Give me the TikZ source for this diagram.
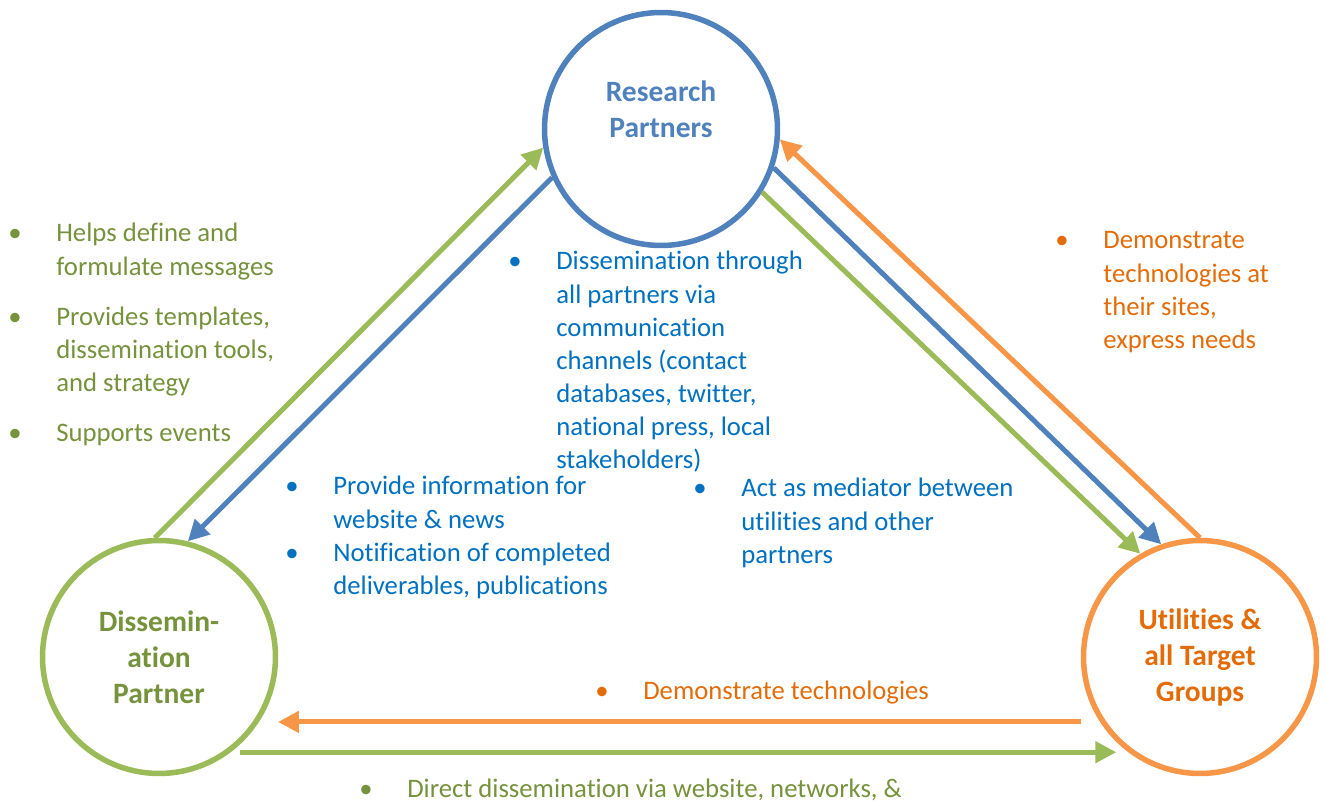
\documentclass[tikz,border=0pt]{standalone}
\usepackage{fontspec}
\setmainfont{Carlito}[Ligatures=NoCommon]
\usetikzlibrary{arrows.meta}

\definecolor{greenline}{HTML}{9BBB59}
\definecolor{greentext}{HTML}{76923C}
\definecolor{blueline}{HTML}{4F81BD}
\definecolor{bluetext}{HTML}{0070C0}
\definecolor{orangeline}{HTML}{F79646}
\definecolor{orangetext}{HTML}{E36C09}

% bullet list with a hanging text column
\newcommand{\notelist}[1]{\begin{tabular}[t]{@{}p{0.96cm}@{}l@{}}#1\end{tabular}}

\tikzset{
    partner/.style={draw=#1, line width=0.11cm, circle, minimum size=4.66cm, inner sep=0pt},
    partnertext/.style={text=#1, font=\fontsize{16.8}{20.5}\selectfont\bfseries, align=center},
    flow/.style={draw=#1, line width=0.1cm, -{Triangle[length=0.42cm,width=0.42cm]}},
    notes/.style={text=#1, font=\fontsize{15.2}{18.8}\selectfont, anchor=base west, inner sep=0pt},
}

\begin{document}
\begin{tikzpicture}[x=0.02cm, y=-0.02cm]
                \useasboundingbox (0,0) rectangle (1325,803);

                % The three partners
                \node[partner=blueline] (rp) at (661,129) {};
                \node[partner=greenline] (dp) at (159,657) {};
                \node[partner=orangeline] (ut) at (1200,657) {};
                \node[partnertext=blueline] (rplabel) at (661,109) {Research\\Partners};
                \node[partnertext=greentext] (dplabel) at (159,657) {Dissemin-\\ation\\Partner};
                \node[partnertext=orangetext] (utlabel) at (1200,657) {Utilities \&\\all Target\\Groups};

                % Left side
                \draw[flow=greenline] (dp.92) -- (rp.189);
                \draw[flow=blueline] (rp.204) -- (dp.76);

                % Right side
                \draw[flow=blueline] (rp.341) -- (ut.109);
                \draw[flow=greenline] (rp.328) -- (ut.120);
                \draw[flow=orangeline] (ut.90) -- (rp.355);

                % Bottom side
                \draw[flow=orangeline] ([xshift=-0.38cm]ut.213) -- ([xshift=0.38cm]dp.-33);
                \draw[flow=greenline] ([xshift=0.18cm]dp.-53.6) -- ([xshift=-0.24cm]ut.233.6);

                % Notes on the flows
                \node[notes=greentext] (dpnotes) at (8,242) {\notelist{%
                    \textbullet & Helps define and\\
                    & formulate messages\\[0.34cm]
                    \textbullet & Provides templates,\\
                    & dissemination tools,\\
                    & and strategy\\[0.34cm]
                    \textbullet & Supports events}};
                \node[notes=bluetext] (rpnotes) at (508,270) {\notelist{%
                    \textbullet & Dissemination through\\
                    & all partners via\\
                    & communication\\
                    & channels (contact\\
                    & databases, twitter,\\
                    & national press, local\\
                    & stakeholders)}};
                \node[notes=bluetext] (dptorp) at (285,495) {\notelist{%
                    \textbullet & Provide information for\\
                    & website \& news\\
                    \textbullet & Notification of completed\\
                    & deliverables, publications}};
                \node[notes=bluetext] (rptout) at (693,497) {\notelist{%
                    \textbullet & Act as mediator between\\
                    & utilities and other\\
                    & partners}};
                \node[notes=orangetext] (uttorp) at (1055,249) {\notelist{%
                    \textbullet & Demonstrate\\
                    & technologies at\\
                    & their sites,\\
                    & express needs}};
                \node[notes=orangetext] (uttodp) at (595,699) {\notelist{%
                    \textbullet & Demonstrate technologies}};
                \node[notes=greentext] (dptout) at (359,797) {\notelist{%
                    \textbullet & Direct dissemination via website, networks, \&}};
            \end{tikzpicture}
\end{document}
